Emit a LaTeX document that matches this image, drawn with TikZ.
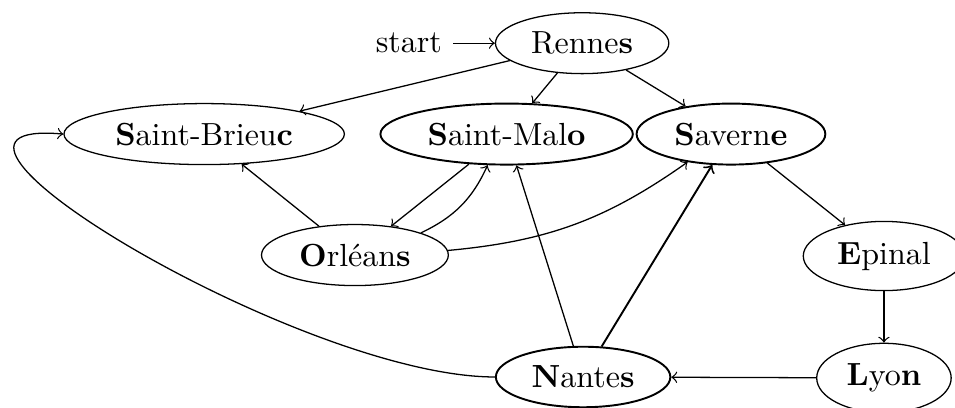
\documentclass[tikz,border=0pt]{standalone}
\usetikzlibrary{shapes.geometric,positioning}

\tikzset{
  city/.style={ellipse, draw, inner sep=3.2pt},
  bigcity/.style={city, semithick},
  road/.style={->},
}

\begin{document}
\begin{tikzpicture}
\useasboundingbox (0,0) rectangle (298.4pt,127.2pt);

% cities
\node[city]    (Rennes)  at (181.9pt,113.7pt) {Renne\textbf{s}};
\node[city]    (Brieuc)  at (63.8pt,85.3pt)   {\textbf{S}aint-Brieu\textbf{c}};
\node[bigcity] (Malo)    at (158.3pt,85.3pt)  {\textbf{S}aint-Mal\textbf{o}};
\node[bigcity] (Saverne) at (228.4pt,85.3pt)  {\textbf{S}avern\textbf{e}};
\node[city]    (Orleans) at (110.9pt,47.5pt)  {\textbf{O}rléan\textbf{s}};
\node[city]    (Epinal)  at (276.2pt,47.2pt)  {\textbf{E}pinal};
\node[city]    (Lyon)    at (276.2pt,9.1pt)   {\textbf{L}yo\textbf{n}};
\node[bigcity] (Nantes)  at (182.2pt,9.4pt)   {\textbf{N}ante\textbf{s}};

% initial marker
\node (start) [left=13pt of Rennes] {start};
\draw[road] (start) -- (Rennes);

% roads
\draw[road] (Rennes) -- (Brieuc);
\draw[road] (Rennes) -- (Malo);
\draw[road] (Rennes) -- (Saverne);
\draw[road] (Malo) -- (Orleans);
\draw[road] (Orleans) to[bend right=20] (Malo);
\draw[road] (Orleans) to[bend right=15] (Saverne);
\draw[road] (Orleans) -- (Brieuc);
\draw[road] (Nantes) -- (Malo);
\draw[road, semithick] (Nantes) -- (Saverne);
\draw[road] (Nantes.west) to[out=180, in=175] (Brieuc.west);
\draw[road] (Saverne) -- (Epinal);
\draw[road] (Epinal) -- (Lyon);
\draw[road] (Lyon) -- (Nantes);
\end{tikzpicture}
\end{document}
